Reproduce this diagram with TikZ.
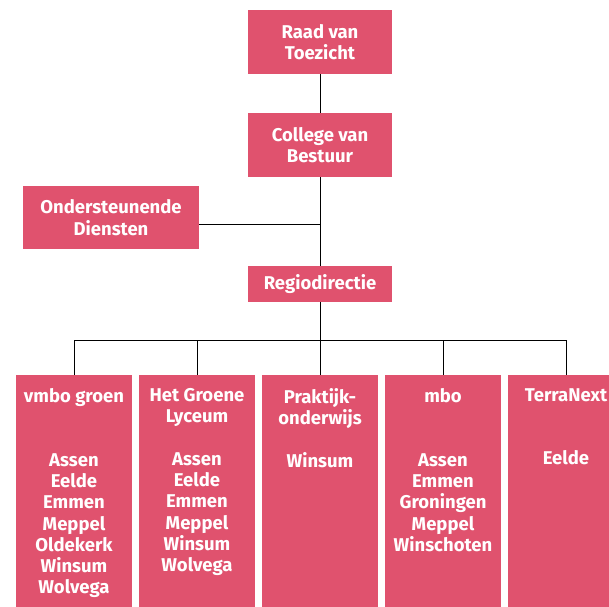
\documentclass[tikz,border=0pt]{standalone}
\usepackage{fontspec}
\setmainfont{Fira Sans}
\usetikzlibrary{positioning}
\definecolor{orgrood}{RGB}{224,82,110}

\tikzset{
  orgtekst/.style={text=white, font=\bfseries\fontsize{18.5}{21.3}\selectfont, align=center},
  topbox/.style={orgtekst, fill=orgrood, inner sep=0pt},
  unitbox/.style={fill=orgrood, inner sep=0pt, anchor=north, minimum width=116pt, minimum height=240pt},
  unittekst/.style={orgtekst, inner sep=0pt, anchor=north, execute at begin node=\strut},
  lijn/.style={draw=black, line width=1pt}
}

\begin{document}
\begin{tikzpicture}[x=1pt,y=-1pt]
\clip (0,0) rectangle (609,606);
\fill[white] (0,0) rectangle (609,606);

% bestuur
\node[topbox, minimum width=144pt, minimum height=64pt] (raad) at (320,42) {Raad van\\Toezicht};
\node[topbox, minimum width=144pt, minimum height=64pt] (cvb) at (320,145) {College van\\Bestuur};
\node[topbox, minimum width=176pt, minimum height=63pt] (ond) at (111,217.5) {Ondersteunende\\Diensten};
\node[topbox, minimum width=144pt, minimum height=36pt] (regio) at (320,284) {Regiodirectie};

\coordinate (tak) at (320,224);
\coordinate (bus) at (320,340);

\draw[lijn] (raad) -- (cvb);
\draw[lijn] (cvb) -- (regio);
\draw[lijn] (ond.east |- tak) -- (tak);
\draw[lijn] (regio) -- (bus);

% onderwijs
\node[unitbox] (vmbo) at (74,375) {};
\node[unitbox] (hgl) at (197,375) {};
\node[unitbox] (pro) at (320,375) {};
\node[unitbox] (mbo) at (443,375) {};
\node[unitbox] (tnx) at (566,375) {};

\node[unittekst, below=13pt of vmbo.north] {vmbo groen\\[42.6pt]Assen\\Eelde\\Emmen\\Meppel\\Oldekerk\\Winsum\\Wolvega};
\node[unittekst, below=13pt of hgl.north] {Het Groene\\Lyceum\\[21.3pt]Assen\\Eelde\\Emmen\\Meppel\\Winsum\\Wolvega};
\node[unittekst, below=13pt of pro.north] {Praktijk-\\onderwijs\\[21.3pt]Winsum};
\node[unittekst, below=13pt of mbo.north] {mbo\\[42.6pt]Assen\\Emmen\\Groningen\\Meppel\\Winschoten};
\node[unittekst, below=13pt of tnx.north] {TerraNext\\[42.6pt]Eelde};

\foreach \eenheid in {vmbo,hgl,pro,mbo,tnx}
  \draw[lijn] (bus) -| (\eenheid.north);
\end{tikzpicture}
\end{document}
